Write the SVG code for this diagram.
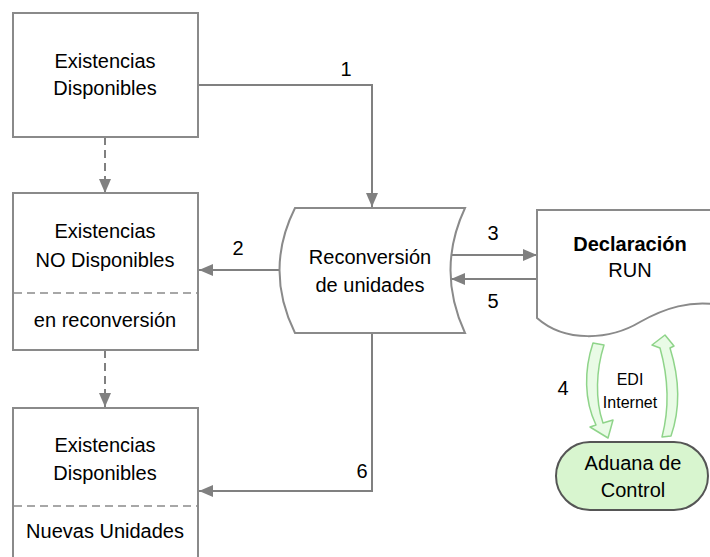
<svg xmlns="http://www.w3.org/2000/svg" width="710" height="557" viewBox="0 0 710 557">
<style>
.box{fill:#fff;stroke:#8a8a8a;stroke-width:2}
.sep{stroke:#8a8a8a;stroke-width:1.5;stroke-dasharray:8,5;fill:none}
.con{fill:none;stroke:#808080;stroke-width:2}
.dash{fill:none;stroke:#808080;stroke-width:2;stroke-dasharray:8,5}
.t{font-family:"Liberation Sans",Arial,sans-serif;font-size:20px;fill:#000;text-anchor:middle}
.b{font-weight:bold}
.s{font-size:16px}
.garrow{fill:#e9fbe6;stroke:#8fd48a;stroke-width:1.5;stroke-linejoin:round}
.pill{fill:#d8f5cf;stroke:#555;stroke-width:2}
</style>
<defs>
<marker id="ah" markerWidth="14" markerHeight="12" refX="14" refY="6" orient="auto" markerUnits="userSpaceOnUse">
<path d="M0,0 L14,6 L0,12 Z" fill="#808080"/>
</marker>
</defs>
<g id="connectors">
<path class="con" d="M198,85 H372 V207" marker-end="url(#ah)"/>
<path class="dash" d="M105,137 V193" marker-end="url(#ah)"/>
<path class="dash" d="M105,350 V407" marker-end="url(#ah)"/>
<path class="con" d="M279,270 H199" marker-end="url(#ah)"/>
<path class="con" d="M450,255 H537" marker-end="url(#ah)"/>
<path class="con" d="M537,279 H451" marker-end="url(#ah)"/>
<path class="con" d="M372,333 V491 H199" marker-end="url(#ah)"/>
<text class="t" x="346" y="76">1</text>
<text class="t" x="238" y="255">2</text>
<text class="t" x="493" y="240">3</text>
<text class="t" x="493" y="308">5</text>
<text class="t" x="362" y="478">6</text>
<text class="t" x="563" y="395">4</text>
</g>
<g id="existencias-disponibles">
<rect class="box" x="13" y="13" width="185" height="124"/>
<text class="t" x="105" y="68">Existencias</text>
<text class="t" x="105" y="95">Disponibles</text>
</g>
<g id="existencias-no-disponibles">
<rect class="box" x="13" y="193" width="185" height="157"/>
<line class="sep" x1="14" y1="293" x2="197" y2="293"/>
<text class="t" x="105" y="238">Existencias</text>
<text class="t" x="105" y="267">NO Disponibles</text>
<text class="t" x="105" y="327">en reconversión</text>
</g>
<g id="existencias-nuevas">
<path class="box" d="M13,560 V408 H198 V560"/>
<line class="sep" x1="14" y1="506" x2="197" y2="506"/>
<text class="t" x="105" y="452">Existencias</text>
<text class="t" x="105" y="480">Disponibles</text>
<text class="t" x="105" y="538">Nuevas Unidades</text>
</g>
<g id="reconversion">
<path class="box" d="M295,208 H465 Q436,270 465,333 H295 Q264,270 295,208 Z"/>
<text class="t" x="370" y="264">Reconversión</text>
<text class="t" x="370" y="292">de unidades</text>
</g>
<g id="declaracion">
<path class="box" d="M720,210 H537 V318 C565,343 610,340 640,322 C665,308 690,300 720,305"/>
<text class="t b" x="630" y="251">Declaración</text>
<text class="t" x="630" y="277">RUN</text>
</g>
<g id="edi">
<path class="garrow" d="M593,343 L604,345 C596,370 595,400 603,423 L613,420 L608,438 L590,427 L596,425 C584,400 584,370 593,343 Z"/>
<path class="garrow" d="M662,437 L671,436 C680,410 680,380 670,348 L674,346 L665,335 L652,345 L660,348 C669,380 669,410 662,437 Z"/>
<text class="t s" x="630" y="385">EDI</text>
<text class="t s" x="630" y="408">Internet</text>
</g>
<g id="aduana">
<rect class="pill" x="556" y="442" width="152" height="68" rx="34" ry="34"/>
<text class="t" x="633" y="470">Aduana de</text>
<text class="t" x="633" y="497">Control</text>
</g>
</svg>
